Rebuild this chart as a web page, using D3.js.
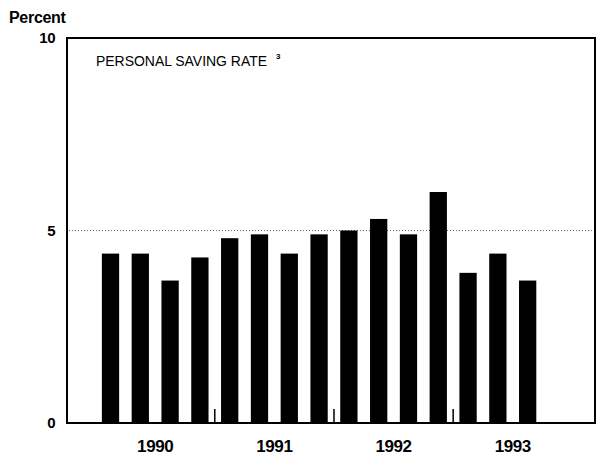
<!DOCTYPE html>
<html>
<head>
<meta charset="utf-8">
<script src="https://cdn.jsdelivr.net/npm/d3@7"></script>
<style>
    body { margin: 0; background: #fff; }
    svg { display: block; font-family: "Liberation Sans", Arial, Helvetica, sans-serif; }
</style>
</head>
<body>
<script>
// quarterly personal saving rate, 1990:Q1 - 1993:Q3
var years = [1990, 1991, 1992, 1993];
var quarters = ["1990Q1", "1990Q2", "1990Q3", "1990Q4",
                "1991Q1", "1991Q2", "1991Q3", "1991Q4",
                "1992Q1", "1992Q2", "1992Q3", "1992Q4",
                "1993Q1", "1993Q2", "1993Q3"];
var savingRate = [4.4, 4.4, 3.7, 4.3, 4.8, 4.9, 4.4, 4.9, 5.0, 5.3, 4.9, 6.0, 3.9, 4.4, 3.7];
var yTicks = [0, 5, 10];
var gridValues = [5];
var yearBreaks = [1991, 1992, 1993];

var width = 600, height = 456;
// note: "top" is taken by window.top, so plot edges get their own names
var plotL = 67, plotR = 595, plotT = 38, plotB = 423;

var svg = d3.select("body").append("svg")
    .attr("width", width)
    .attr("height", height);

var x = d3.scaleLinear().domain([1989.76, 1994.19]).range([plotL, plotR]);
var y = d3.scaleLinear().domain([0, 10]).range([plotB, plotT]);

function quarterTime(q) {
    return +q.slice(0, 4) + (+q.slice(5) - 0.5) / 4;
}
var barW = x(1990.145) - x(1990);

// dotted reference line at 5 percent
svg.selectAll("line.grid").data(gridValues).enter().append("line")
    .attr("class", "grid")
    .attr("x1", plotL + 2).attr("x2", plotR - 2)
    .attr("y1", function(d) { return y(d); })
    .attr("y2", function(d) { return y(d); })
    .attr("stroke", "#666")
    .attr("stroke-width", 1)
    .attr("stroke-dasharray", "1,2");

// bars
svg.selectAll("rect.bar").data(savingRate).enter().append("rect")
    .attr("class", "bar")
    .attr("x", function(d, i) { return x(quarterTime(quarters[i])) - barW / 2; })
    .attr("width", barW)
    .attr("y", function(d) { return y(d); })
    .attr("height", function(d) { return y(0) - y(d); })
    .attr("fill", "#000");

// frame
svg.append("rect")
    .attr("x", plotL).attr("y", plotT)
    .attr("width", plotR - plotL).attr("height", plotB - plotT)
    .attr("fill", "none")
    .attr("stroke", "#000")
    .attr("stroke-width", 2);

// small ticks at the year breaks
svg.selectAll("line.yearTick").data(yearBreaks).enter().append("line")
    .attr("class", "yearTick")
    .attr("x1", function(d) { return x(d); })
    .attr("x2", function(d) { return x(d); })
    .attr("y1", plotB).attr("y2", plotB - 14)
    .attr("stroke", "#000")
    .attr("stroke-width", 1.5);

// y labels
svg.selectAll("text.yLab").data(yTicks).enter().append("text")
    .attr("class", "yLab")
    .attr("x", 55)
    .attr("y", function(d) { return y(d) + 5; })
    .attr("text-anchor", "end")
    .attr("font-size", 15)
    .attr("font-weight", "bold")
    .attr("letter-spacing", -0.5)
    .text(function(d) { return d; });

// year labels
svg.selectAll("text.xLab").data(years).enter().append("text")
    .attr("class", "xLab")
    .attr("x", function(d) { return x(d + 0.5); })
    .attr("y", 452)
    .attr("text-anchor", "middle")
    .attr("font-size", 17)
    .attr("font-weight", "bold")
    .attr("letter-spacing", -0.4)
    .text(function(d) { return d; });

svg.append("text")
    .attr("x", 9).attr("y", 23)
    .attr("font-size", 16)
    .attr("font-weight", "bold")
    .attr("letter-spacing", -0.3)
    .text("Percent");

svg.append("text")
    .attr("x", 96).attr("y", 65.5)
    .attr("font-size", 14)
    .attr("textLength", 171)
    .attr("lengthAdjust", "spacingAndGlyphs")
    .text("PERSONAL SAVING RATE");
svg.append("text")
    .attr("x", 276).attr("y", 59)
    .attr("font-size", 8)
    .attr("font-weight", "bold")
    .text("3");
</script>
</body>
</html>
